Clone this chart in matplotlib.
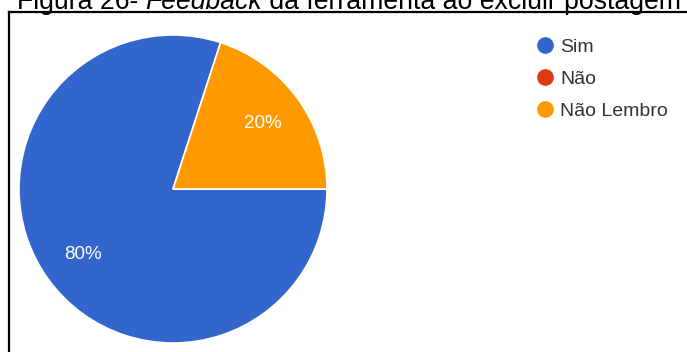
import matplotlib.pyplot as plt
from matplotlib.lines import Line2D

# Respostas da pergunta sobre o feedback ao excluir postagem
labels = ['Sim', 'Não', 'Não Lembro']
values = [80, 0, 20]
colors = ['#3366CC', '#DC3912', '#FF9900']

W, H = 687, 352
fig = plt.figure(figsize=(W / 100, H / 100), dpi=100)
fig.patch.set_facecolor('white')

# Legenda da figura, com "Feedback" em itálico (cortada no topo)
parts = [('Figura 26- ', 'normal'), ('Feedback', 'italic'),
         (' da ferramenta ao excluir postagem', 'normal')]
x = 17 / W
renderer = fig.canvas.get_renderer()
for txt, style in parts:
    t = fig.text(x, 1 - 9 / H, txt, ha='left', va='baseline', fontsize=19.2,
                 family='Liberation Sans', style=style, color='black')
    bb = t.get_window_extent(renderer=renderer)
    x += bb.width / W

# Moldura da figura (esquerda e topo)
fig.add_artist(Line2D([9 / W, 9 / W], [0, 1 - 12 / H], color='black',
                      linewidth=1.6, transform=fig.transFigure))
fig.add_artist(Line2D([9 / W, 1], [1 - 12 / H, 1 - 12 / H], color='black',
                      linewidth=1.6, transform=fig.transFigure))

# Pizza
cx, cy, r = 173, 189, 154
ax = fig.add_axes([(cx - r) / W, (H - cy - r) / H, 2 * r / W, 2 * r / H])
wedges, texts, autotexts = ax.pie(
    values, colors=colors, startangle=72, counterclock=True, radius=1,
    autopct=lambda p: f'{p:.0f}%' if p > 0 else '', pctdistance=0.72,
    wedgeprops=dict(edgecolor='white', linewidth=1.2),
    textprops=dict(color='white', fontsize=13.5, family='Liberation Sans'))
ax.set_xlim(-1, 1)
ax.set_ylim(-1, 1)
ax.axis('off')

# Legenda com marcadores circulares
handles = [Line2D([], [], marker='o', linestyle='none', markersize=11,
                  markerfacecolor=c, markeredgecolor=c) for c in colors]
fig.legend(handles, labels, loc='upper left',
           bbox_to_anchor=(533 / W, 1 - 38 / H), frameon=False,
           handletextpad=0.2, labelspacing=0.75, handlelength=1.2,
           prop=dict(family='Liberation Sans', size=14),
           labelcolor='#333333', borderaxespad=0, borderpad=0)

fig.savefig('out.png', dpi=100, facecolor='white')
